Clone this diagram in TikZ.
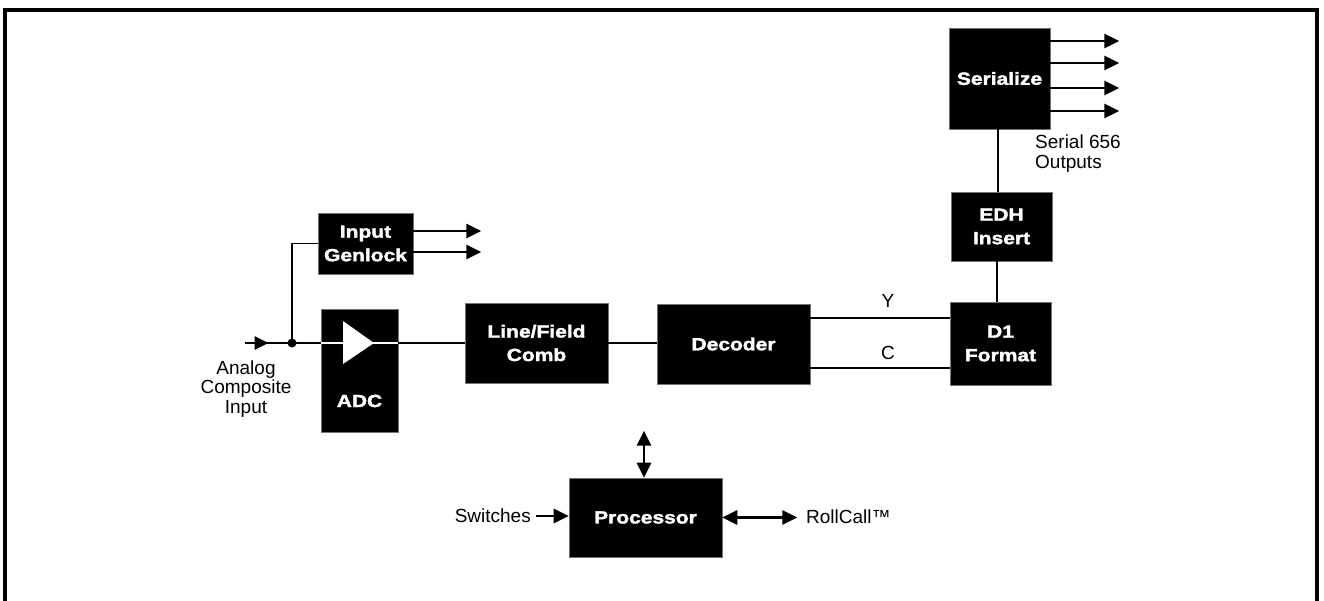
\documentclass[tikz,border=0pt]{standalone}
\usepackage{fontspec}
\setmainfont{Liberation Sans}
\newfontfamily\boxfont[FakeStretch=1.2,FakeBold=2]{Liberation Sans Bold}
\usetikzlibrary{arrows.meta,decorations.markings,calc}
\begin{document}
\begin{tikzpicture}[x=1pt,y=-1pt,
  blk/.style={fill=black,draw=black!55,line width=0.6pt,inner sep=0pt,text=white,
    font=\boxfont\fontsize{17.5}{23.5}\selectfont,align=center},
  wire/.style={line width=2.8pt},
  tip/.tip={Triangle[length=15pt,width=14pt]},
  arr/.style={wire,-tip},
  lbl/.style={font=\fontsize{19}{19.5}\selectfont,inner sep=0pt}]
\useasboundingbox (0,0) rectangle (1324,601);
% frame
\draw[line width=4.5pt,line join=miter] (5,605) -- (5,10) -- (1317,10) -- (1317,605);

% blocks
\node[blk,minimum width=95pt,minimum height=61pt] (genlock) at (365.5,243.5) {Input\\Genlock};
\node[blk,minimum width=77pt,minimum height=123pt] (adc) at (359.5,370.5) {};
\node[text=white,font=\boxfont\fontsize{17.5}{23.5}\selectfont,inner sep=0pt] (adclbl) at (359.5,401) {ADC};
\node[blk,minimum width=143pt,minimum height=80pt] (comb) at (536.5,343) {Line/Field\\Comb};
\node[blk,minimum width=153pt,minimum height=80pt] (decoder) at (733.5,344) {Decoder};
\node[blk,minimum width=101pt,minimum height=83pt] (d1) at (1000.5,343.5) {D1\\Format};
\node[blk,minimum width=101pt,minimum height=69pt] (edh) at (1001.5,226.5) {EDH\\Insert};
\node[blk,minimum width=101pt,minimum height=101pt] (serialize) at (999.5,78.5) {Serialize};
\node[blk,minimum width=153pt,minimum height=79pt] (processor) at (645.5,517.5) {Processor};

% input
\coordinate (in) at (245,343);
\coordinate (junc) at (292,343);
\draw[wire,postaction={decorate},decoration={markings,
  mark=at position 0.5 with {\arrow{Triangle[length=14pt,width=13pt]}}}] (in) -- (junc);
\fill (junc) circle[radius=4.5pt];
\draw[line width=1.5pt] (junc) |- (genlock.west);
\draw[wire] (junc) -- (junc -| adc.west);
\draw[wire,white] (junc -| adc.west) -- (junc -| adc.east);
\fill[white] (343,321) -- (374,343) -- (343,364) -- cycle;
\draw[wire] (junc -| adc.east) -- (junc -| comb.west);
\draw[wire] (comb.east) -- (comb.east -| decoder.west);

\node[lbl,align=center] (analog) at (246,389) {Analog\\Composite\\Input};

% genlock outputs
\draw[arr] ([yshift=12.5pt]genlock.east) -- ++(68,0);
\draw[arr] ([yshift=-8.5pt]genlock.east) -- ++(68,0);

% Y / C
\coordinate (ya) at ([yshift=26pt]decoder.east);
\coordinate (ca) at ([yshift=-24pt]decoder.east);
\draw[wire] (ya) -- (ya -| d1.west);
\draw[wire] (ca) -- (ca -| d1.west);
\node[lbl] (ylbl) at (888,301) {Y};
\node[lbl] (clbl) at (888,353) {C};

% vertical chain
\coordinate (v1) at ([xshift=-3.5pt]d1.north);
\draw[wire] (v1) -- (v1 |- edh.south);
\coordinate (v2) at ([xshift=-3.5pt]edh.north);
\draw[wire] (v2) -- (v2 |- serialize.south);

% serial outputs
\draw[arr] ([yshift=37.5pt]serialize.east) -- ++(69,0);
\draw[arr] ([yshift=15.5pt]serialize.east) -- ++(69,0);
\draw[arr] ([yshift=-9.5pt]serialize.east) -- ++(69,0);
\draw[arr] ([yshift=-32.5pt]serialize.east) -- ++(69,0);
\node[lbl,anchor=north west,align=left,font=\fontsize{19}{20}\selectfont] (serlbl) at (1035,135) {Serial 656\\Outputs};

% processor
\draw[wire,tip-tip] ([xshift=-1.5pt]processor.north) -- ++(0,-47);
\node[lbl,anchor=east] (sw) at (531,516) {Switches};
\draw[arr] ([xshift=5pt]sw.east) -- (sw.east -| processor.west);
\draw[wire,tip-tip] (processor.east) -- ++(75,0);
\node[lbl,anchor=west] (rc) at (806,517) {RollCall™};
\end{tikzpicture}
\end{document}
